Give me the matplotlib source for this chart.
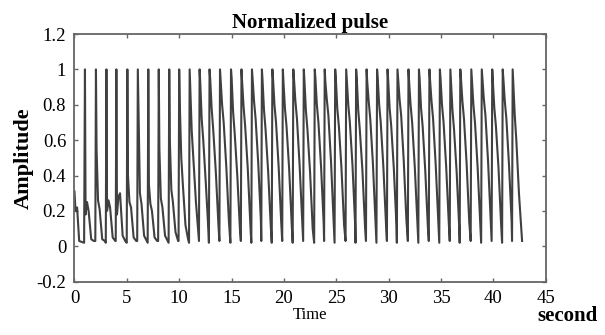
import matplotlib
matplotlib.use("Agg")
import matplotlib.pyplot as plt

# ---- data ----
title = "Normalized pulse"
x_label = "Time"
y_label = "Amplitude"
unit_label = "second"
x_ticks = [0, 5, 10, 15, 20, 25, 30, 35, 40, 45]
y_ticks = [-0.2, 0, 0.2, 0.4, 0.6, 0.8, 1, 1.2]
y_tick_labels = ["-0.2", "0", "0.2", "0.4", "0.6", "0.8", "1", "1.2"]

# initial segment before first beat
start_t = [0.0, 0.1, 0.25, 0.45, 0.92]
start_v = [0.31, 0.20, 0.22, 0.03, 0.02]

# time of each systolic peak (s), amplitude 1
peak_t = [1.0, 2.05, 3.05, 4.0, 5.05, 6.05, 7.05, 8.05, 9.05, 10.0,
          11.0, 11.95, 12.9, 13.9, 14.95, 15.95, 16.95, 17.9, 18.9, 19.9,
          20.9, 21.9, 22.95, 23.9, 24.9, 25.95, 26.9, 27.9, 28.9, 29.9,
          30.85, 31.9, 32.9, 33.9, 34.9, 35.9, 36.85, 37.9, 38.9, 39.9,
          40.9, 41.85]
peak_v = [1.0] * 42

# decay values read at 0.06, 0.2, 0.35, 0.6 and 0.85 s after each peak
fall_offsets = [0.06, 0.2, 0.35, 0.6, 0.85]
fall_a = [0.18, 0.55, 0.20, 0.18, 0.40, 0.80, 0.35, 0.55, 0.60, 0.80,
          0.90, 0.93, 0.95, 0.94, 0.95, 0.93, 0.95, 0.94, 0.95, 0.93,
          0.95, 0.94, 0.95, 0.93, 0.95, 0.94, 0.95, 0.93, 0.95, 0.94,
          0.95, 0.93, 0.95, 0.94, 0.95, 0.93, 0.95, 0.94, 0.95, 0.93,
          0.95, 0.92]
fall_b = [0.25, 0.26, 0.26, 0.28, 0.25, 0.30, 0.24, 0.27, 0.32, 0.50,
          0.65, 0.72, 0.78, 0.80, 0.76, 0.79, 0.82, 0.77, 0.80, 0.78,
          0.82, 0.77, 0.80, 0.83, 0.78, 0.80, 0.77, 0.82, 0.80, 0.78,
          0.83, 0.80, 0.78, 0.82, 0.80, 0.77, 0.82, 0.80, 0.83, 0.78,
          0.82, 0.74]
fall_c = [0.20, 0.21, 0.22, 0.30, 0.22, 0.24, 0.20, 0.22, 0.25, 0.35,
          0.50, 0.60, 0.66, 0.70, 0.64, 0.68, 0.72, 0.66, 0.70, 0.68,
          0.72, 0.66, 0.70, 0.74, 0.68, 0.70, 0.66, 0.72, 0.70, 0.68,
          0.74, 0.70, 0.68, 0.72, 0.70, 0.66, 0.72, 0.70, 0.74, 0.68,
          0.72, 0.60]
fall_d = [0.04, 0.04, 0.05, 0.06, 0.05, 0.06, 0.05, 0.06, 0.08, 0.12,
          0.25, 0.35, 0.42, 0.45, 0.40, 0.44, 0.47, 0.42, 0.45, 0.44,
          0.46, 0.42, 0.45, 0.48, 0.44, 0.46, 0.43, 0.47, 0.45, 0.44,
          0.48, 0.45, 0.43, 0.46, 0.45, 0.42, 0.47, 0.45, 0.48, 0.44,
          0.46, 0.30]
fall_e = [0.03, 0.03, 0.03, 0.03, 0.03, 0.03, 0.03, 0.03, 0.03, 0.04,
          0.06, 0.08, 0.12, 0.14, 0.10, 0.12, 0.15, 0.11, 0.13, 0.12,
          0.14, 0.10, 0.13, 0.15, 0.12, 0.13, 0.11, 0.14, 0.13, 0.12,
          0.15, 0.13, 0.11, 0.14, 0.13, 0.10, 0.14, 0.13, 0.15, 0.12,
          0.14, 0.08]
trough_v = [0.02, 0.03, 0.02, 0.03, 0.02, 0.03, 0.02, 0.03, 0.02, 0.03,
            0.02, 0.03, 0.02, 0.03, 0.02, 0.03, 0.02, 0.03, 0.02, 0.03,
            0.02, 0.03, 0.02, 0.03, 0.02, 0.03, 0.02, 0.03, 0.02, 0.03,
            0.02, 0.03, 0.02, 0.03, 0.02, 0.03, 0.02, 0.03, 0.02, 0.03,
            0.02, 0.03]
end_t = 42.75
end_v = 0.03

# ---- assemble polyline vertices ----
ts = list(start_t)
vs = list(start_v)
rise = 0.06
for i, pt in enumerate(peak_t):
    if i > 0:
        ts.append(pt - rise)
        vs.append(trough_v[i])
    ts.append(pt)
    vs.append(peak_v[i])
    vals = [fall_a[i], fall_b[i], fall_c[i], fall_d[i], fall_e[i]]
    for off, v in zip(fall_offsets, vals):
        ts.append(pt + off)
        vs.append(v)
ts.append(end_t)
vs.append(end_v)

# ---- figure ----
plt.rcParams['font.family'] = ['Liberation Serif', 'DejaVu Serif']
fig = plt.figure(figsize=(6.05, 3.35), dpi=100)
ax = fig.add_axes([0.1231, 0.1591, 0.7788, 0.7394])
ax.plot(ts, vs, color='#404040', lw=1.5, solid_joinstyle='round')

ax.set_xlim(0, 45)
ax.set_ylim(-0.2, 1.2)
ax.set_xticks(x_ticks)
ax.set_xticklabels([str(v) for v in x_ticks])
ax.set_yticks(y_ticks)
ax.set_yticklabels(y_tick_labels)
ax.tick_params(direction='in', length=3, width=1, color='#666666',
               top=True, right=True, labelsize=13.5, pad=6)
for s in ax.spines.values():
    s.set_color('#666666')
    s.set_linewidth(1.3)

ax.set_title(title, fontsize=15, fontweight='bold', pad=4)
ax.set_ylabel(y_label, fontsize=16, fontweight='bold', labelpad=2)
ax.set_xlabel(x_label, fontsize=12, labelpad=0)
fig.text(568 / 605, 1 - 316 / 335, unit_label, fontsize=15, fontweight='bold',
         ha='center', va='center')

fig.savefig("out.png", dpi=100)
